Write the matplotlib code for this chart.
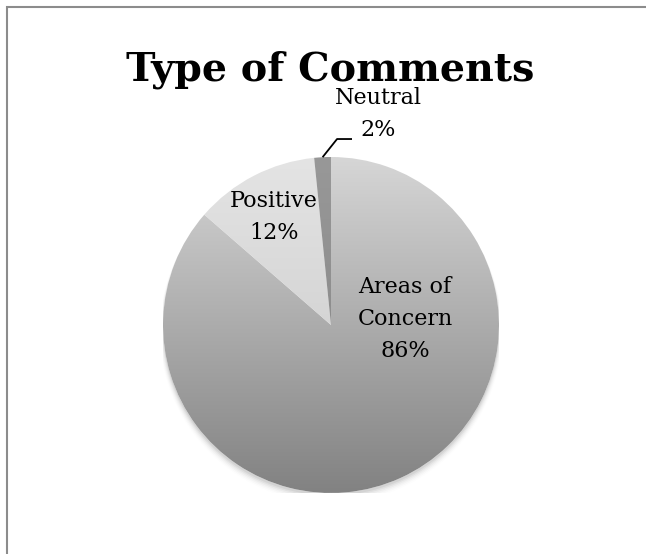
import numpy as np
import matplotlib
matplotlib.use("Agg")
import matplotlib.pyplot as plt
from matplotlib.patches import Rectangle, Circle

title = "Type of Comments"
categories = ["Areas of Concern", "Positive", "Neutral"]
values = [86.4, 12.0, 1.6]
label_names = ["Areas of\nConcern", "Positive", "Neutral"]

# gradient colours (top, bottom) per slice
grad_top = ["#d6d6d6", "#e4e4e4", "#989898"]
grad_bot = ["#828282", "#c6c6c6", "#828282"]
label_pos = [(0.44, 0.036), (-0.34, 0.643), (0.28, 1.256)]

W, H = 646, 554
fig = plt.figure(figsize=(W / 100, H / 100), dpi=100)
fig.patch.set_facecolor("white")

# chart border (extends past right/bottom edges)
fig.patches.append(Rectangle((6.5 / W, -0.05), 1.1, (H - 6.5) / H + 0.05,
                             transform=fig.transFigure, fill=False,
                             edgecolor="#8c8c8c", linewidth=1.5))

cx, cy, R = 331, 325, 168
ax = fig.add_axes([(cx - R) / W, (H - cy - R) / H, 2 * R / W, 2 * R / H])
ax.set_axis_off()

# soft shadow
for i, a in enumerate(np.linspace(0.05, 0.008, 6)):
    ax.add_patch(Circle((0, -0.015 - 0.005 * i), 1.0 + 0.004 * i,
                        facecolor="black", alpha=a, edgecolor="none", zorder=0))

wedges, _ = ax.pie(values, startangle=90, counterclock=False, radius=1.0,
                   colors=["white"] * len(values),
                   wedgeprops=dict(linewidth=0))

t = np.linspace(0, 1, 256)[:, None]
for w, top, bot in zip(wedges, grad_top, grad_bot):
    c1 = np.array(matplotlib.colors.to_rgb(top))
    c2 = np.array(matplotlib.colors.to_rgb(bot))
    img = c1[None, None, :] * (1 - t[:, :, None]) + c2[None, None, :] * t[:, :, None]
    img = np.repeat(img, 2, axis=1)
    im = ax.imshow(img, extent=(-1, 1, -1, 1), origin="upper", zorder=2,
                   interpolation="bilinear", aspect="auto")
    im.set_clip_path(w)
ax.set_xlim(-1, 1)
ax.set_ylim(-1, 1)

font = "DejaVu Serif"
for name, v, (x, y) in zip(label_names, values, label_pos):
    ax.text(x, y, f"{name}\n{round(v)}%", ha="center", va="center", fontsize=16,
            family=font, linespacing=1.6, zorder=5, color="black",
            clip_on=False)

# leader line for Neutral
wn = wedges[2]
mid = np.deg2rad((wn.theta1 + wn.theta2) / 2)
p0 = (np.cos(mid) * 1.0, np.sin(mid) * 1.0)
ax.plot([p0[0], 0.036, 0.125], [p0[1], 1.107, 1.107], color="black",
        linewidth=1.3, zorder=5, clip_on=False, solid_capstyle="butt")

fig.text(330 / W, 1 - 80 / H, title, ha="center", va="baseline",
         fontsize=28.5, fontweight="bold", family=font)

fig.savefig("out.png", dpi=100, facecolor="white")
